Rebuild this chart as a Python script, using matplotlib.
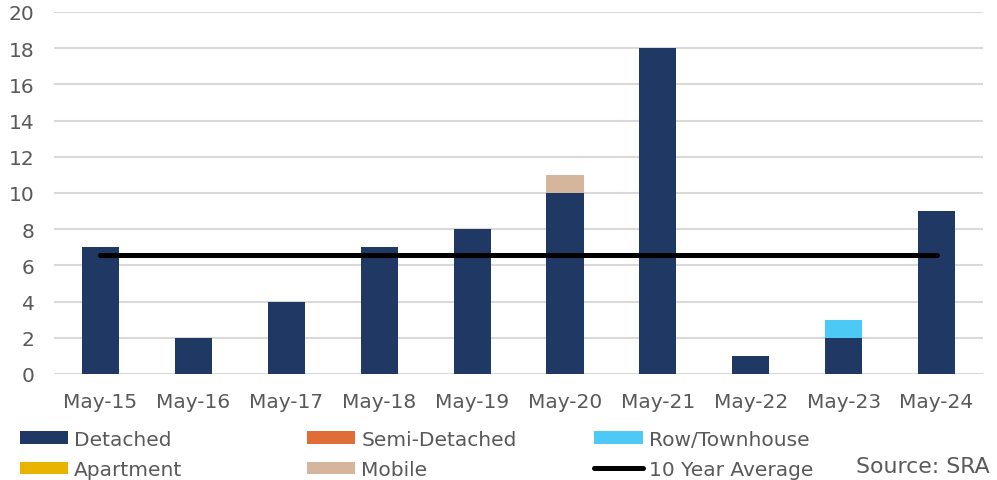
import matplotlib
matplotlib.use("Agg")
import matplotlib.pyplot as plt
from matplotlib.patches import Patch
from matplotlib.lines import Line2D
import numpy as np

plt.rcParams['font.family'] = ['DejaVu Sans']

categories = ["May-15", "May-16", "May-17", "May-18", "May-19", "May-20", "May-21", "May-22", "May-23", "May-24"]
detached = [7, 2, 4, 7, 8, 10, 18, 1, 2, 9]
semi_detached = [0, 0, 0, 0, 0, 0, 0, 0, 0, 0]
row_townhouse = [0, 0, 0, 0, 0, 0, 0, 0, 1, 0]
apartment = [0, 0, 0, 0, 0, 0, 0, 0, 0, 0]
mobile = [0, 0, 0, 0, 0, 1, 0, 0, 0, 0]
ten_year_avg = [6.6] * 10
yticks = [0, 2, 4, 6, 8, 10, 12, 14, 16, 18, 20]

series = [
    ("Detached", detached, "#203864"),
    ("Semi-Detached", semi_detached, "#E06C37"),
    ("Row/Townhouse", row_townhouse, "#4DC9F6"),
    ("Apartment", apartment, "#E8B400"),
    ("Mobile", mobile, "#D5B59B"),
]
TXT = "#595959"
FS = 14.5

fig = plt.figure(figsize=(9.97, 4.81), dpi=100)
ax = fig.add_axes([0.0542, 0.2204, 0.9318, 0.7526])
x = np.arange(len(categories))
bottom = np.zeros(len(categories))
for name, vals, col in series:
    v = np.array(vals, dtype=float)
    ax.bar(x, v, 0.4, bottom=bottom, color=col, linewidth=0, zorder=2)
    bottom += v
ax.plot(x, ten_year_avg, color="black", linewidth=3.6, solid_capstyle="round", zorder=3)

ax.set_xlim(-0.5, len(categories) - 0.5)
ax.set_ylim(0, 20)
ax.set_yticks(yticks)
ax.set_xticks(x)
ax.set_xticklabels(categories)
ax.yaxis.grid(True, color="#d9d9d9", linewidth=1.5, zorder=0)
ax.set_axisbelow(True)
for s in ax.spines.values():
    s.set_visible(False)
ax.tick_params(axis="both", length=0, labelsize=FS, colors=TXT)
ax.tick_params(axis="y", pad=14)
ax.tick_params(axis="x", pad=13)

cols = [
    [("Detached", "#203864", "patch"), ("Apartment", "#E8B400", "patch")],
    [("Semi-Detached", "#E06C37", "patch"), ("Mobile", "#D5B59B", "patch")],
    [("Row/Townhouse", "#4DC9F6", "patch"), ("10 Year Average", "black", "line")],
]
xs = [0.020, 0.308, 0.596]
for xc, entries in zip(xs, cols):
    handles = []
    labels = []
    for lab, col, kind in entries:
        if kind == "patch":
            handles.append(Patch(facecolor=col, edgecolor="none"))
        else:
            handles.append(Line2D([0], [0], color=col, linewidth=3.6, solid_capstyle="round"))
        labels.append(lab)
    leg = fig.legend(handles, labels, loc="upper left", bbox_to_anchor=(xc, 0.104),
                     frameon=False, fontsize=FS, handlelength=2.4, handleheight=0.6,
                     handletextpad=0.3, labelspacing=0.55, borderaxespad=0, borderpad=0)
    for t in leg.get_texts():
        t.set_color(TXT)

fig.text(0.859, 0.0166, "Source: SRA", fontsize=15.8, color=TXT, ha="left", va="baseline")

fig.savefig("out.png", dpi=100)
